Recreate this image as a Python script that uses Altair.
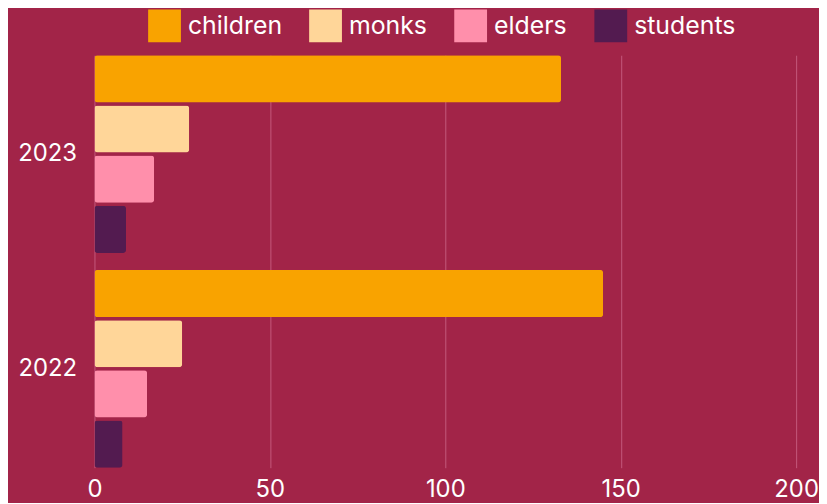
import altair as alt
import pandas as pd

years = ["2023", "2022"]
groups = ["children", "monks", "elders", "students"]
values_2023 = [133, 27, 17, 9]
values_2022 = [145, 25, 15, 8]
colors = ["#F9A300", "#FFD699", "#FF8FAB", "#531B50"]

rows = []
for g, v in zip(groups, values_2023):
    rows.append({"year": "2023", "group": g, "value": v})
for g, v in zip(groups, values_2022):
    rows.append({"year": "2022", "group": g, "value": v})
df = pd.DataFrame(rows)

FONT = "Inter"
BG = "#A22448"

chart = alt.Chart(df).mark_bar(cornerRadius=3).encode(
    x=alt.X("value:Q", scale=alt.Scale(domain=[0, 200]),
            axis=alt.Axis(values=[0, 50, 100, 150, 200], title=None, grid=True,
                          gridColor="#C45A7C", gridWidth=1, domain=False, ticks=False,
                          labelColor="#FFFFFF", labelFontSize=24, labelFont=FONT,
                          labelPadding=10, labelFlush=False)),
    y=alt.Y("year:N", sort=years,
            scale=alt.Scale(paddingInner=0.079, paddingOuter=0),
            axis=alt.Axis(title=None, domain=False, ticks=False,
                          labelColor="#FFFFFF", labelFontSize=24, labelFont=FONT,
                          labelPadding=18)),
    yOffset=alt.YOffset("group:N", sort=groups,
                        scale=alt.Scale(paddingInner=0.06, paddingOuter=0)),
    color=alt.Color("group:N", sort=groups,
                    scale=alt.Scale(domain=groups, range=colors),
                    legend=alt.Legend(title=None, orient="none", direction="horizontal",
                                      legendX=54, legendY=-46, padding=0,
                                      symbolType="square", symbolSize=1089,
                                      symbolStrokeWidth=0,
                                      labelColor="#FFFFFF", labelFontSize=25,
                                      labelFont=FONT, labelOffset=7,
                                      columnPadding=27)),
).properties(
    width=706,
    height=415,
    background=BG,
    padding={"left": 9, "right": 0, "top": 0, "bottom": 0},
).configure_view(stroke=None)

chart.save("out.html", embed_options={"renderer": "svg", "actions": False})
